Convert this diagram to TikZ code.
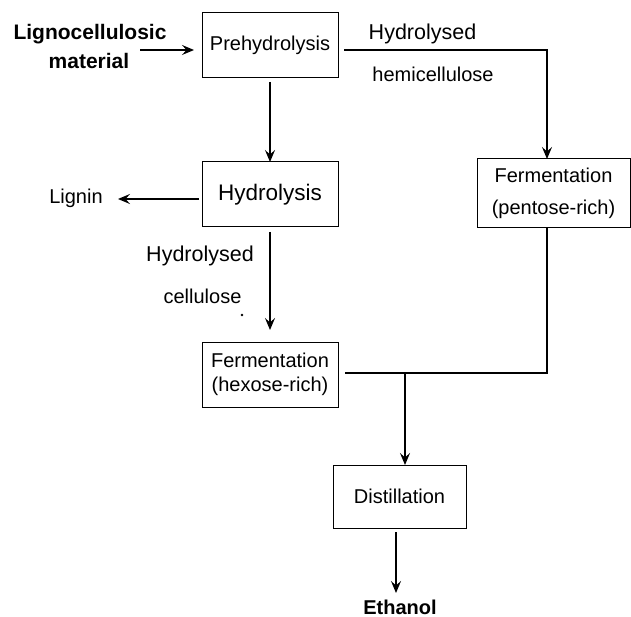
\documentclass[tikz,border=0pt]{standalone}
\usepackage{fontspec}
\setmainfont{Liberation Sans}
\usetikzlibrary{arrows.meta}
\begin{document}
\begin{tikzpicture}[x=1pt,y=-1pt,
  every node/.style={inner sep=0pt,outer sep=0pt,font=\fontsize{20}{24}\selectfont},
  box/.style={draw,line width=1pt,minimum width=136pt,minimum height=65pt,align=center},
  lbl/.style={},
  biglbl/.style={font=\fontsize{21.5}{24}\selectfont},
  blbl/.style={font=\fontsize{21}{24}\selectfont\bfseries},
  flow/.style={line width=1.2pt,-{Stealth[length=12pt,width=10pt,inset=4.5pt]}},
  plain/.style={line width=1.2pt}]
\path[use as bounding box] (0,0) rectangle (631,617);
% boxes
\node[box] (pre) at (270,45.5) {\raisebox{-3pt}{Prehydrolysis}};
\node[box,font=\fontsize{22.5}{26}\selectfont] (hyd) at (270,194.5) {\raisebox{-3pt}{Hydrolysis}};
\node[box,minimum width=153pt,minimum height=69pt] (pen) at (553.5,193.5) {Fermentation\\[8pt](pentose-rich)};
\node[box] (hex) at (270,374.5) {Fermentation\\(hexose-rich)};
\node[box,minimum width=133pt,minimum height=63pt] (dist) at (399.5,496.5) {\raisebox{-3pt}{Distillation}};
% text
\node[blbl] (src1) at (90,34) {Lignocellulosic};
\node[blbl] (src2) at (89,61) {material};
\node[lbl] (lig) at (76,198) {Lignin};
\node[biglbl] (hh1) at (422.5,34) {Hydrolysed};
\node[lbl] (hh2) at (433,74) {hemicellulose};
\node[biglbl] (hc1) at (200,256) {Hydrolysed};
\node[lbl] (hc2) at (202.5,296) {cellulose};
\node[blbl,font=\fontsize{20}{24}\selectfont\bfseries] (eth) at (400,607) {Ethanol};
\fill (242,315) circle (1.3pt);
% coordinates
\coordinate (s) at (140,50);
\coordinate (h0) at (344,50);
\coordinate (hc) at (547,50);
\coordinate (lg) at (199,199);
\coordinate (pb) at (547,228);
\coordinate (jr) at (547,373);
\coordinate (jl) at (345,373);
\coordinate (jm) at (405,373);
\coordinate (ea) at (396,532);
\coordinate (eb) at (396,593);
% connectors
\draw[flow,shorten >=8pt] (s) -- (s -| pre.west);
\draw[flow,shorten <=4pt] (pre.south) -- (hyd.north);
\draw[flow] (h0) -- (hc) -- (pen.north -| hc);
\draw[flow,line width=1.6pt] (lg) -- (118,199) coordinate (lt);
\draw[flow,shorten <=5pt,shorten >=12pt] (hyd.south) -- (hex.north);
\draw[plain] (pb) -- (jr) -- (jl);
\draw[flow] (jm) -- (dist.north -| jm);
\draw[flow] (ea) -- (eb);
\end{tikzpicture}
\end{document}
